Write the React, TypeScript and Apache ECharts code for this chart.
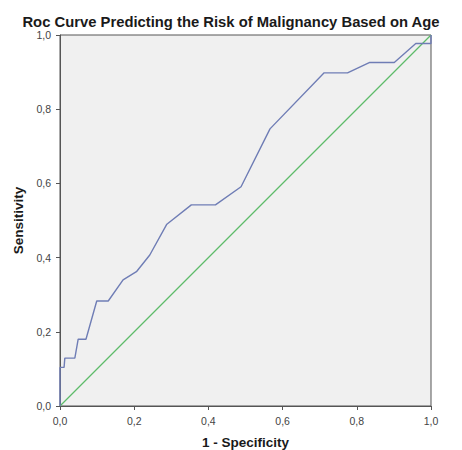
import React, { useEffect, useRef } from "react";
import * as echarts from "echarts";

const titleText = "Roc Curve Predicting the Risk of Malignancy Based on Age";
const fprValues = [0, 0, 0.011, 0.013, 0.04, 0.049, 0.07, 0.099, 0.13, 0.17, 0.206, 0.242, 0.288, 0.354, 0.419, 0.488, 0.566, 0.712, 0.775, 0.835, 0.901, 0.959, 1, 1];
const tprValues = [0, 0.104, 0.104, 0.129, 0.129, 0.18, 0.18, 0.283, 0.283, 0.34, 0.362, 0.407, 0.49, 0.542, 0.542, 0.591, 0.747, 0.898, 0.898, 0.926, 0.926, 0.977, 0.977, 1];
const refX = [0, 1];
const refY = [0, 1];

const fmt = (v: number) => v.toFixed(1).replace(".", ",");

export default function App() {
  const ref = useRef<HTMLDivElement>(null);
  useEffect(() => {
    if (!ref.current) return;
    const chart = echarts.init(ref.current, undefined, { renderer: "svg" });
    const font = "'Liberation Sans', Arial, sans-serif";
    chart.setOption({
      animation: false,
      backgroundColor: "#ffffff",
      title: {
        text: titleText,
        left: "center",
        top: 9,
        textStyle: { fontFamily: font, fontSize: 14.8, fontWeight: "bold", color: "#1a1a1a" },
      },
      grid: {
        left: 60,
        right: 31,
        top: 35,
        bottom: 44,
        outerBoundsMode: "none",
        containLabel: false,
        show: true,
        backgroundColor: "#f0f0f0",
        borderColor: "#555555",
        borderWidth: 1,
      },
      xAxis: {
        type: "value",
        min: 0,
        max: 1,
        interval: 0.2,
        name: "1 - Specificity",
        nameLocation: "middle",
        nameGap: 29,
        nameTextStyle: { fontFamily: font, fontSize: 13.5, fontWeight: "bold", color: "#1a1a1a" },
        axisLine: { show: true, lineStyle: { color: "#555555", width: 1 } },
        axisTick: { show: true, length: 4, lineStyle: { color: "#555555" } },
        axisLabel: { fontFamily: font, fontSize: 10.5, color: "#444444", margin: 9, formatter: fmt },
        splitLine: { show: false },
      },
      yAxis: {
        type: "value",
        min: 0,
        max: 1,
        interval: 0.2,
        name: "Sensitivity",
        nameLocation: "middle",
        nameGap: 31,
        nameTextStyle: { fontFamily: font, fontSize: 13.5, fontWeight: "bold", color: "#1a1a1a" },
        axisLine: { show: true, lineStyle: { color: "#555555", width: 1 } },
        axisTick: { show: true, length: 4, lineStyle: { color: "#555555" } },
        axisLabel: { fontFamily: font, fontSize: 10.5, color: "#444444", margin: 9, formatter: fmt },
        splitLine: { show: false },
      },
      series: [
        {
          type: "line",
          data: refX.map((x, i) => [x, refY[i]]),
          showSymbol: false,
          lineStyle: { color: "#5dbb6a", width: 1.2 },
        },
        {
          type: "line",
          data: fprValues.map((x, i) => [x, tprValues[i]]),
          showSymbol: false,
          lineStyle: { color: "#6f7db5", width: 1.4 },
        },
      ],
    });
    return () => chart.dispose();
  }, []);
  return (
    <div
      ref={ref}
      style={{ position: "fixed", left: 0, top: 0, width: 462, height: 450 }}
    />
  );
}
